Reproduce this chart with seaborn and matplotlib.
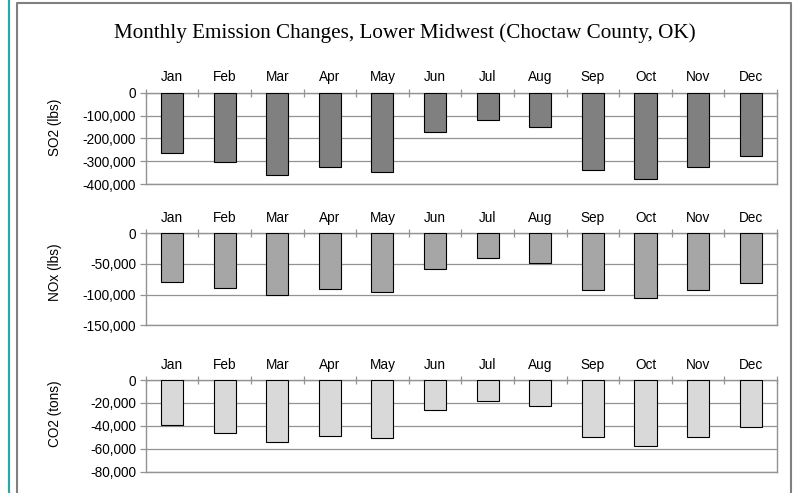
import numpy as np
import pandas as pd
import matplotlib
matplotlib.use("Agg")
import matplotlib.pyplot as plt
from matplotlib.lines import Line2D
from matplotlib.ticker import FuncFormatter, MultipleLocator
import seaborn as sns

sns.set_theme(style="white")
plt.rcParams["font.family"] = ["Liberation Sans", "DejaVu Sans"]

months = ["Jan", "Feb", "Mar", "Apr", "May", "Jun",
          "Jul", "Aug", "Sep", "Oct", "Nov", "Dec"]

so2_lbs = [-265000, -304000, -359000, -326000, -349000, -173000,
           -119000, -151000, -338000, -377000, -326000, -276000]
nox_lbs = [-79300, -89600, -101000, -91200, -95600, -57600,
           -39700, -48900, -92300, -105900, -92300, -81400]
co2_tons = [-39600, -46300, -53900, -48900, -50400, -26500,
            -18100, -23000, -49500, -57400, -49500, -41300]

panels = [
    ("SO2 (lbs)", so2_lbs, "#808080", -400000, 100000),
    ("NOx (lbs)", nox_lbs, "#a6a6a6", -150000, 50000),
    ("CO2 (tons)", co2_tons, "#d9d9d9", -80000, 20000),
]

W, H = 795, 493
fig = plt.figure(figsize=(W / 100, H / 100), dpi=100)
fig.patch.set_facecolor("white")

# panel boxes in pixels: (top, bottom); shared left/right
left_px, right_px = 145.7, 777.0
boxes = [(92.7, 184.0), (233.3, 325.3), (380.0, 471.7)]
label_y = [127.5, 272.0, 413.5]

grid_c = "#939393"
tick_fs = 9.8

for (name, vals, col, ymin, step), (top, bot), ly in zip(panels, boxes, label_y):
    ax = fig.add_axes([left_px / W, 1 - bot / H, (right_px - left_px) / W, (bot - top) / H])
    df = pd.DataFrame({"month": months, "value": vals})
    sns.barplot(data=df, x="month", y="value", order=months, color=col,
                saturation=1, width=0.42, edgecolor="black", linewidth=0.8,
                ax=ax, zorder=3)
    ax.set_xlim(-0.5, 11.5)
    ax.set_ylim(ymin, 0)
    ax.yaxis.set_major_locator(MultipleLocator(step))
    ax.yaxis.set_major_formatter(FuncFormatter(lambda v, p: f"{int(round(v)):,}"))
    ax.grid(axis="y", color=grid_c, linewidth=0.9, zorder=0)
    ax.set_axisbelow(True)
    ax.xaxis.tick_top()
    ax.xaxis.set_label_position("top")
    ax.set_xticks(range(12))
    ax.set_xticklabels(months)
    ax.set_xticks(np.arange(-0.5, 12.0, 1.0), minor=True)
    ax.tick_params(axis="x", which="major", length=0, pad=6, labelsize=tick_fs,
                   labelcolor="black")
    ax.tick_params(axis="x", which="minor", direction="inout", length=6,
                   width=0.9, color=grid_c, top=True, bottom=False)
    ax.tick_params(axis="y", which="major", direction="out", length=4, width=0.9,
                   color=grid_c, left=True, pad=3, labelsize=tick_fs,
                   labelcolor="black")
    ax.set_xlabel("")
    ax.set_ylabel("")
    for s in ax.spines.values():
        s.set_color(grid_c)
        s.set_linewidth(1.0)
        s.set_visible(True)
    fig.text(55 / W, 1 - ly / H, name, rotation=90, ha="center", va="center",
             fontsize=tick_fs, color="black")

fig.text(405 / W, 1 - 33 / H,
         "Monthly Emission Changes, Lower Midwest (Choctaw County, OK)",
         ha="center", va="center", fontsize=15.2, color="black",
         family=["Liberation Serif", "DejaVu Serif"])

# outer frame lines
fig.add_artist(Line2D([8.5 / W, 8.5 / W], [0, 1], color="#2aa8a8", linewidth=1.6))
fig.add_artist(Line2D([16.5 / W, 16.5 / W, 791 / W, 791 / W],
                      [0, 1 - 2.5 / H, 1 - 2.5 / H, 0],
                      color="#808080", linewidth=1.5))

fig.savefig("out.png", dpi=100)
